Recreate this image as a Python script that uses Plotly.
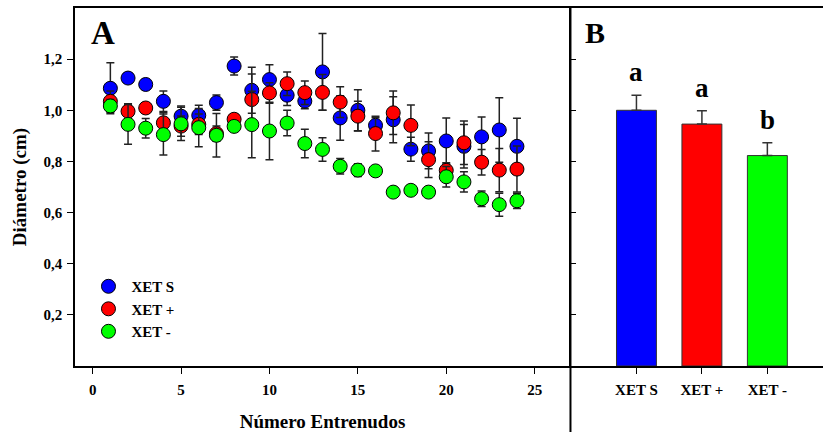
import plotly.graph_objects as go

# Panel A: diameter per internode number
internodes = list(range(1, 25))
xet_s = [1.086, 1.126, 1.101, 1.035, 0.977, 0.980, 1.030, 1.173, 1.078, 1.120, 1.059, 1.036,
         1.150, 0.970, 1.000, 0.941, 0.963, 0.848, 0.841, 0.880, 0.859, 0.896, 0.923, 0.859]
xet_s_err = [0.100, 0.020, 0.020, 0.040, 0.040, 0.040, 0.030, 0.035, 0.090, 0.058, 0.040, 0.030,
             0.150, 0.087, 0.080, 0.030, 0.090, 0.047, 0.070, 0.090, 0.085, 0.078, 0.126, 0.110]
xet_p = [1.035, 0.996, 1.009, 0.951, 0.938, 0.945, 0.909, 0.965, 1.042, 1.068, 1.104, 1.069,
         1.070, 1.032, 0.977, 0.909, 0.990, 0.941, 0.807, 0.765, 0.873, 0.797, 0.766, 0.770]
xet_p_err = [0.040, 0.030, 0.020, 0.040, 0.040, 0.040, 0.030, 0.020, 0.100, 0.040, 0.046, 0.046,
             0.070, 0.060, 0.058, 0.068, 0.085, 0.080, 0.070, 0.030, 0.085, 0.050, 0.085, 0.090]
xet_m = [1.017, 0.945, 0.930, 0.905, 0.947, 0.932, 0.902, 0.937, 0.944, 0.919, 0.950, 0.870,
         0.847, 0.781, 0.766, 0.763, 0.680, 0.687, 0.680, 0.740, 0.720, 0.654, 0.631, 0.646]
xet_m_err = [0.025, 0.078, 0.038, 0.080, 0.065, 0.075, 0.085, 0.020, 0.130, 0.112, 0.050, 0.056,
             0.046, 0.030, 0.025, 0.020, 0.015, 0.015, 0.015, 0.040, 0.040, 0.030, 0.045, 0.030]

# Panel B: mean diameter per treatment
treatments = ["XET S", "XET +", "XET -"]
means = [1.000, 0.946, 0.823]
means_err = [0.059, 0.052, 0.050]
letters = ["a", "a", "b"]

colors = ["#0000FF", "#FF0000", "#00FF00"]
FONT = "Liberation Serif"

fig = go.Figure()

series = [("XET S", xet_s, xet_s_err), ("XET +", xet_p, xet_p_err), ("XET -", xet_m, xet_m_err)]
for (name, vals, errs), col in zip(series, colors):
    fig.add_trace(go.Scatter(
        x=internodes, y=vals, name=name, mode="markers",
        marker=dict(color=col, size=14, line=dict(color="black", width=1)),
        error_y=dict(type="data", array=errs, color="#222222", thickness=1.5, width=4),
        xaxis="x", yaxis="y",
    ))

fig.add_trace(go.Bar(
    x=treatments, y=means, marker=dict(color=colors, line=dict(color="#333333", width=1)),
    width=0.61, showlegend=False,
    error_y=dict(type="data", symmetric=False, array=means_err, arrayminus=[0, 0, 0],
                 color="#333333", thickness=1.5, width=5),
    xaxis="x2", yaxis="y2",
))

for t, m, e, L in zip(treatments, means, means_err, letters):
    fig.add_annotation(x=t, y=m + e, text="<b>%s</b>" % L, xref="x2", yref="y2",
                       showarrow=False, yanchor="bottom", yshift=6,
                       font=dict(family=FONT, size=27, color="black"))

fig.add_annotation(x=0.019, y=0.986, xref="paper", yref="paper", text="<b>A</b>",
                   showarrow=False, xanchor="left", yanchor="top",
                   font=dict(family=FONT, size=33, color="black"))
fig.add_annotation(x=0.6786, y=0.982, xref="paper", yref="paper", text="<b>B</b>",
                   showarrow=False, xanchor="left", yanchor="top",
                   font=dict(family=FONT, size=30, color="black"))

# divider between the two panels, running to the bottom of the figure
fig.add_shape(type="line", xref="paper", yref="paper", x0=0.6624, x1=0.6624,
              y0=-0.2, y1=1, line=dict(color="black", width=2))

tickfont = dict(family=FONT, size=15, color="black", weight="bold")
yvals = [0.2, 0.4, 0.6, 0.8, 1.0, 1.2]

fig.update_layout(
    width=823, height=432,
    margin=dict(l=75, r=0, t=8, b=66),
    paper_bgcolor="white", plot_bgcolor="white",
    separators=",.",
    font=dict(family=FONT, color="black"),
    showlegend=True,
    legend=dict(x=0.014, y=0.268, xanchor="left", yanchor="top",
                font=dict(family=FONT, size=15, color="black", weight="bold"),
                bgcolor="rgba(0,0,0,0)", itemwidth=36, tracegroupgap=0),
    xaxis=dict(domain=[0, 0.66176], range=[-1, 27], tickvals=[0, 5, 10, 15, 20, 25],
               ticks="outside", ticklen=6, tickcolor="black", showline=True, linecolor="black",
               linewidth=1.5, mirror=True, showgrid=False, zeroline=False, tickfont=tickfont,
               ticklabelstandoff=3,
               title=dict(text="<b>Número Entrenudos</b>", font=dict(family=FONT, size=19),
                          standoff=19)),
    yaxis=dict(domain=[0, 1], range=[0, 1.4], tickvals=yvals, tickformat=".1f",
               ticks="outside", ticklen=6, tickcolor="black", showline=True, linecolor="black",
               linewidth=1.5, showgrid=False, zeroline=False, tickfont=tickfont,
               ticklabelstandoff=2,
               title=dict(text="<b>Diámetro (cm)</b>", font=dict(family=FONT, size=19),
                          standoff=12)),
    xaxis2=dict(domain=[0.6631, 1], range=[-1, 2.85], ticks="outside", ticklen=6,
                tickcolor="black", showline=True, linecolor="black", linewidth=1.5,
                mirror=True, showgrid=False, zeroline=False, tickfont=tickfont, anchor="y2",
                ticklabelstandoff=3),
    yaxis2=dict(domain=[0, 1], range=[0, 1.4], tickvals=yvals, showticklabels=False,
                ticks="inside", ticklen=5, tickcolor="black", showline=True, linecolor="black",
                linewidth=1.5, showgrid=False, zeroline=False, anchor="x2"),
)

fig.write_html("out.html")
